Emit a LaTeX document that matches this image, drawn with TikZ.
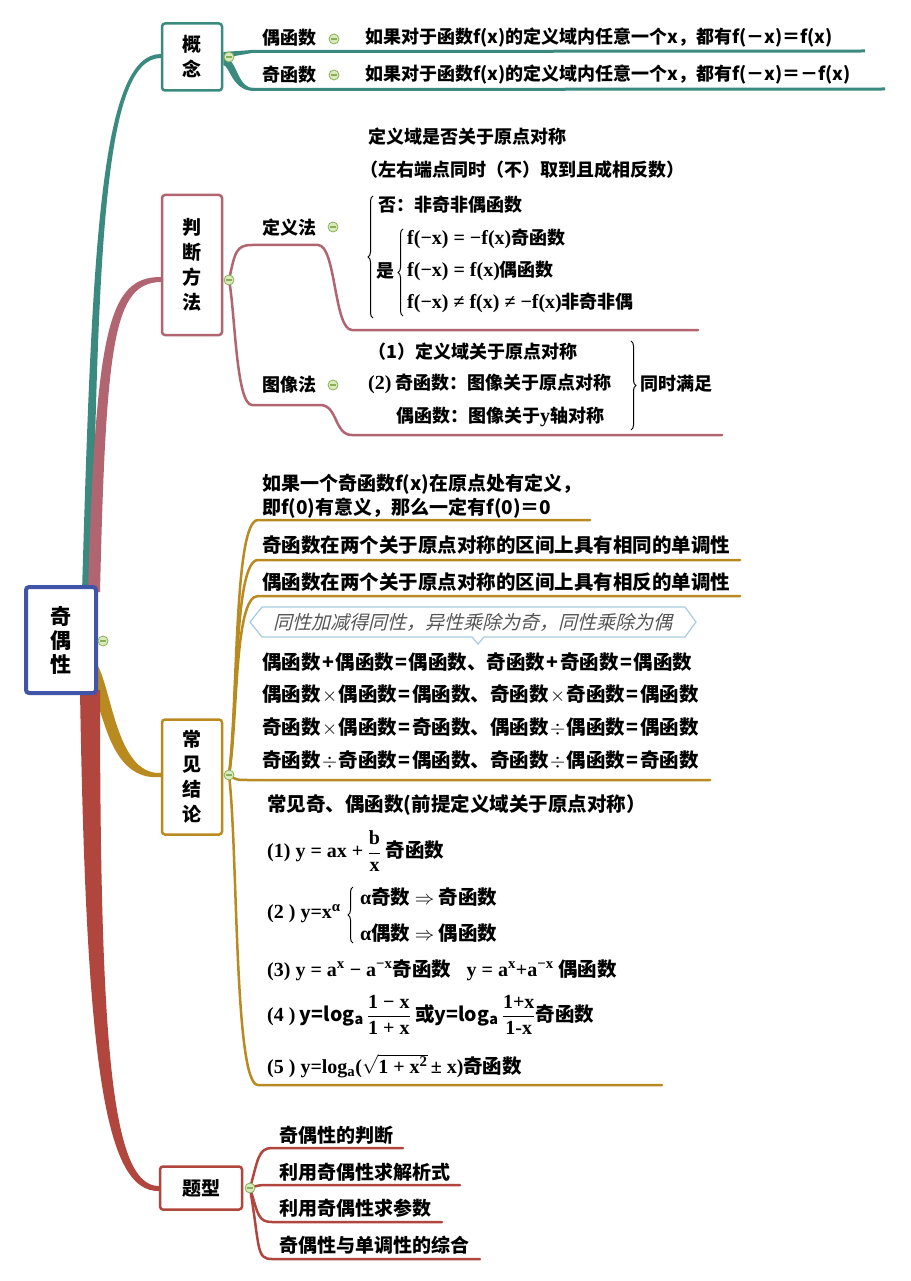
\documentclass[tikz,border=0pt]{standalone}
\usepackage{mathptmx}
\usepackage[no-math]{fontspec}
\setmainfont{Noto Sans CJK SC}
\newfontfamily\tms{Liberation Serif}
\newfontfamily\hand{Noto Sans CJK SC}[FakeSlant=0.25]
\usetikzlibrary{positioning,backgrounds,decorations.pathreplacing}

\definecolor{rootblue}{HTML}{4055A8}
\definecolor{tealc}{HTML}{3B8A80}
\definecolor{pinkc}{HTML}{B16570}
\definecolor{goldc}{HTML}{B88A20}
\definecolor{redc}{HTML}{B0463D}
\definecolor{foldfill}{HTML}{D8EBB8}
\definecolor{foldline}{HTML}{8CAE5C}
\definecolor{tipline}{HTML}{A8CCE0}
\definecolor{handgray}{HTML}{555555}

\newcommand\tm{\tms\bfseries\fontsize{20}{24}\selectfont}
\newcommand\fr[2]{$\displaystyle\frac{\mbox{\tm #1}}{\mbox{\tm #2}}$}
\newcommand\op[1]{\hspace{1.5pt}#1\hspace{1.5pt}}

\tikzset{
  topic/.style={draw,rounded corners=3pt,line width=2.5pt,fill=white,align=center,inner sep=0pt,font=\fontsize{19}{25}\selectfont\bfseries},
  leaf/.style={anchor=west,inner sep=0pt},
  bigleaf/.style={leaf,font=\fontsize{19.5}{24}\selectfont\bfseries},
  foldmark/.style={circle,draw=foldline,fill=foldfill,line width=0.8pt,minimum size=10pt,inner sep=0pt,
    path picture={\draw[foldline,line width=1.2pt] ([xshift=-3pt]path picture bounding box.center) -- ([xshift=3pt]path picture bounding box.center);}},
  twig/.style={line width=2.5pt,line cap=round},
  bracel/.style={decorate,decoration={brace,amplitude=5pt},line width=1pt},
}

\begin{document}
\begin{tikzpicture}[x=1pt,y=-1pt,font=\fontsize{18}{22}\selectfont\bfseries]
 \useasboundingbox (0,0) rectangle (910,1281);

 % 中心主题
 \node[topic,draw=rootblue,line width=4pt,minimum width=70,minimum height=106,font=\fontsize{21}{24}\selectfont\bfseries] (root) at (61,640) {奇\\偶\\性};
 \node[foldmark] (mk0) at (103,641) {};

 % 一级主题
 \node[topic,draw=tealc,minimum width=60,minimum height=67] (gainian) at (192,57) {概\\念};
 \node[topic,draw=pinkc,minimum width=60,minimum height=140] (panduan) at (192,265) {判\\断\\方\\法};
 \node[topic,draw=goldc,minimum width=60,minimum height=115] (jielun) at (192,777) {常\\见\\结\\论};
 \node[topic,draw=redc,minimum width=82,minimum height=43] (tixing) at (201,1188) {题型};
 \node[foldmark] (mk1) at (229,57) {};
 \node[foldmark] (mk2) at (229,280) {};
 \node[foldmark] (mk3) at (229,775) {};
 \node[foldmark] (mk4) at (250,1188) {};

 % 概念
 \node[leaf] (ou) at (262,38) {偶函数};
 \node[foldmark] (mk11) at (334,39) {};
 \node[leaf] (oudef) at (365,38) {如果对于函数f(x)的定义域内任意一个x，都有f(－x)＝f(x)};
 \node[leaf] (ji) at (262,75) {奇函数};
 \node[foldmark] (mk12) at (334,75) {};
 \node[leaf] (jidef) at (365,75) {如果对于函数f(x)的定义域内任意一个x，都有f(－x)＝－f(x)};
 \coordinate (ouend) at (865,51);
 \coordinate (jiend) at (885,89);

 % 判断方法
 \node[leaf] (dingyi) at (262,228) {定义法};
 \node[foldmark] (mk21) at (333,227) {};
 \node[leaf] (tuxiang) at (262,385) {图像法};
 \node[foldmark] (mk22) at (333,385) {};
 \node[leaf] (q1) at (368,137) {定义域是否关于原点对称};
 \node[leaf] (q2) at (360,170) {（左右端点同时（不）取到且成相反数）};
 \node[leaf] (q3) at (378,205) {否：非奇非偶函数};
 \node[leaf] (q4) at (376,271) {是};
 \node[leaf] (q5) at (407,239) {{\tm f(−x) = −f(x)}奇函数};
 \node[leaf] (q6) at (407,271) {{\tm f(−x) = f(x)}偶函数};
 \node[leaf] (q7) at (407,303) {{\tm f(−x) ≠ f(x) ≠ −f(x)}非奇非偶};
 \draw[bracel] (373,318) -- (373,196); %大括号
 \draw[bracel] (403,316) -- (403,229); %是的括号
 \node[leaf] (r1) at (368,352) {（1）定义域关于原点对称};
 \node[leaf] (r2) at (368,384) {{\tm (2)} 奇函数：图像关于原点对称};
 \node[leaf] (r3) at (396,417) {偶函数：图像关于{\tm y}轴对称};
 \draw[bracel] (631,341) -- (631,430); %右括号
 \node[leaf] (r4) at (640,384) {同时满足};
 \coordinate (dingyiend) at (698,330);
 \coordinate (tuxiangend) at (722,435);

 % 常见结论
 \node[leaf,align=left,font=\fontsize{19}{24}\selectfont\bfseries] (c1) at (262,496) {如果一个奇函数f(x)在原点处有定义，\\即f(0)有意义，那么一定有f(0)＝0};
 \node[bigleaf] (c2) at (262,545) {奇函数在两个关于原点对称的区间上具有相同的单调性};
 \node[bigleaf] (c3) at (262,582) {偶函数在两个关于原点对称的区间上具有相反的单调性};
 \draw[tipline,line width=1.2pt,fill=white] (250,622) -- (262,607) -- (685,607) -- (696,622) -- (685,637) -- (484,637) -- (478,644) -- (472,637) -- (262,637) -- cycle; %标注框
 \node[font=\hand\fontsize{19}{22}\selectfont,text=handgray,inner sep=0pt] (koujue) at (473,622) {同性加减得同性，异性乘除为奇，同性乘除为偶};
 \node[bigleaf] (s1) at (262,662) {偶函数\op{+}偶函数\op{=}偶函数、奇函数\op{+}奇函数\op{=}偶函数};
 \node[bigleaf] (s2) at (262,694) {偶函数\op{$\times$}偶函数\op{=}偶函数、奇函数\op{$\times$}奇函数\op{=}偶函数};
 \node[bigleaf] (s3) at (262,727) {奇函数\op{$\times$}偶函数\op{=}奇函数、偶函数\op{$\div$}偶函数\op{=}偶函数};
 \node[bigleaf] (s4) at (262,760) {奇函数\op{$\div$}奇函数\op{=}偶函数、奇函数\op{$\div$}偶函数\op{=}奇函数};
 \node[bigleaf] (f0) at (267,805) {常见奇、偶函数(前提定义域关于原点对称）};
 \node[bigleaf] (f1) at (267,851) {{\tm (1) y = ax +} \fr{b}{x} 奇函数};
 \node[bigleaf] (f2) at (267,914) {{\tm (2 ) y=x\textsuperscript{α}}};
 \draw[bracel] (353,943) -- (353,887); %α的括号
 \node[bigleaf] (f2a) at (360,897) {{\tm α}奇数 $\Rightarrow$ 奇函数};
 \node[bigleaf] (f2b) at (360,933) {{\tm α}偶数 $\Rightarrow$ 偶函数};
 \node[bigleaf] (f3) at (267,970) {{\tm (3) y = a\textsuperscript{x} − a\textsuperscript{−x}}奇函数\hspace{0.8em}{\tm y = a\textsuperscript{x}+a\textsuperscript{−x}} 偶函数};
 \node[bigleaf] (f4) at (267,1015) {{\tm (4 )} y=log\textsubscript{a}\,\fr{1 − x}{1 + x} 或y=log\textsubscript{a}\,\fr{1+x}{1-x}奇函数};
 \node[bigleaf] (f5) at (267,1066) {{\tm (5 ) y=log\textsubscript{a}(}$\sqrt{\mbox{\tm 1 + x\textsuperscript{2}}}$\,{\tm ± x)}奇函数};
 \coordinate (c1end) at (590,520);
 \coordinate (c2end) at (740,560);
 \coordinate (c3end) at (740,596);
 \coordinate (s4end) at (710,780);
 \coordinate (f5end) at (662,1085);

 % 题型
 \node[leaf,font=\fontsize{19}{22}\selectfont\bfseries] (k1) at (279,1135) {奇偶性的判断};
 \node[leaf,font=\fontsize{19}{22}\selectfont\bfseries] (k2) at (279,1172) {利用奇偶性求解析式};
 \node[leaf,font=\fontsize{19}{22}\selectfont\bfseries] (k3) at (279,1208) {利用奇偶性求参数};
 \node[leaf,font=\fontsize{19}{22}\selectfont\bfseries] (k4) at (279,1245) {奇偶性与单调性的综合};
 \coordinate (k1end) at (403,1148);
 \coordinate (k2end) at (460,1185);
 \coordinate (k3end) at (442,1222);
 \coordinate (k4end) at (480,1259);

 \begin{scope}[on background layer]
 \fill[white] (0,0) rectangle (910,1281);
 % 主干
 \fill[tealc] (82,592) .. controls (92,250) and (100,54) .. ([yshift=3pt]gainian.west) -- ([yshift=-1pt]gainian.west) .. controls (104,58) and (98,250) .. (92,592) -- cycle; %概念
 \fill[pinkc] (88,592) .. controls (96,330) and (108,277) .. ([yshift=3pt]panduan.west |- mk2) -- ([yshift=-2pt]panduan.west |- mk2) .. controls (114,283) and (106,340) .. (100,592) -- cycle; %判断方法
 \fill[goldc] (94,660) .. controls (112,680) and (114,775) .. ([yshift=2pt]jielun.west |- mk3) -- ([yshift=-2pt]jielun.west |- mk3) .. controls (108,782) and (104,705) .. (94,700) -- cycle; %常见结论
 \fill[redc] (80,690) .. controls (86,1060) and (104,1192) .. ([yshift=-3pt]tixing.west) -- ([yshift=2pt]tixing.west) .. controls (112,1186) and (100,1050) .. (100,690) -- cycle; %题型
 % 概念的分支
 \fill[tealc] ([yshift=5pt]gainian.east) -- (252,50) -- (252,53) -- ([yshift=-1pt]gainian.east) -- cycle;
 \draw[tealc,line width=3pt] (250,51.5) -- (ouend);
 \fill[tealc] (gainian.east) .. controls (238,58) and (236,88) .. (254,88) -- (254,91) .. controls (232,91) and (230,66) .. ([yshift=-8pt]gainian.east) -- cycle;
 \draw[tealc,line width=3pt] (252,89.5) -- (jiend);
 % 判断方法的分支
 \draw[twig,pinkc] (mk2.center) .. controls +(6,-28) and +(-16,0) .. (252,245) -- (318,245) .. controls +(18,0) and +(-18,0) .. (352,330) -- (dingyiend);
 \draw[twig,pinkc] (mk2.center) .. controls +(6,30) and +(-16,0) .. (252,405) -- (320,405) .. controls +(18,0) and +(-18,0) .. (352,435) -- (tuxiangend);
 % 常见结论的分支
 \draw[twig,goldc] (mk3.center) .. controls (238,700) and (234,520) .. (258,520) -- (c1end);
 \draw[twig,goldc] (mk3.center) .. controls (238,710) and (234,560) .. (258,560) -- (c2end);
 \draw[twig,goldc] (mk3.center) .. controls (238,720) and (234,596) .. (258,596) -- (c3end);
 \draw[twig,goldc] (mk3.center) .. controls (236,780) .. (252,780) -- (s4end);
 \draw[twig,goldc] (mk3.center) .. controls (238,850) and (234,1085) .. (258,1085) -- (f5end);
 % 题型的分支
 \draw[twig,redc] (mk4.center) .. controls +(8,-28) and +(-14,0) .. (272,1148) -- (k1end);
 \draw[twig,redc] (mk4.center) .. controls +(8,-3) and +(-12,0) .. (272,1185) -- (k2end);
 \draw[twig,redc] (mk4.center) .. controls +(8,26) and +(-14,0) .. (272,1222) -- (k3end);
 \draw[twig,redc] (mk4.center) .. controls +(10,60) and +(-16,0) .. (272,1259) -- (k4end);
 \end{scope}
\end{tikzpicture}
\end{document}
